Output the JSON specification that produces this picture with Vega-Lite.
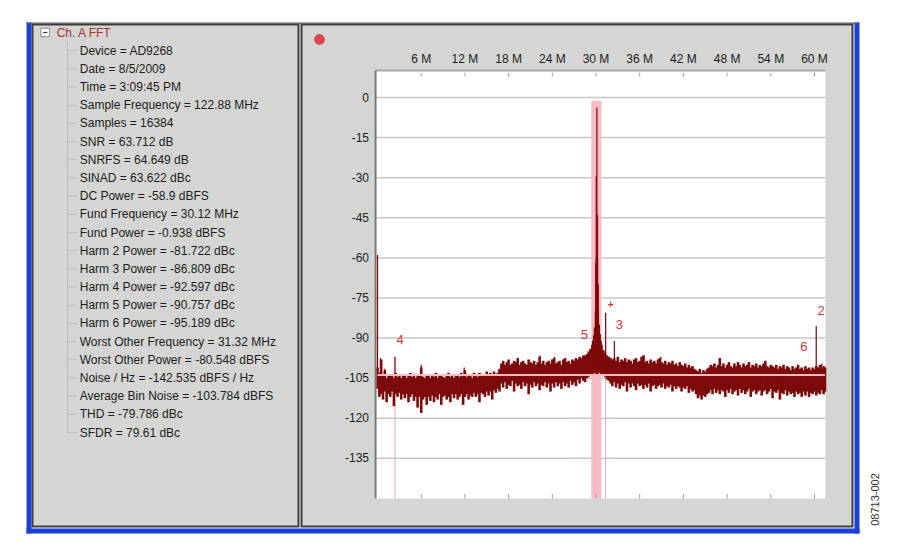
{
  "$schema": "https://vega.github.io/schema/vega-lite/v6.json",
  "padding": {"left": 25.5, "top": 20.5, "right": 10, "bottom": 10},
  "bounds": "flush",
  "spacing": 3,
  "datasets": {
    "info": [
      {"row": 0, "level": 0, "text": "Ch. A FFT"},
      {"row": 1, "level": 1, "text": "Device = AD9268"},
      {"row": 2, "level": 1, "text": "Date = 8/5/2009"},
      {"row": 3, "level": 1, "text": "Time = 3:09:45 PM"},
      {"row": 4, "level": 1, "text": "Sample Frequency = 122.88 MHz"},
      {"row": 5, "level": 1, "text": "Samples = 16384"},
      {"row": 6, "level": 1, "text": "SNR = 63.712 dB"},
      {"row": 7, "level": 1, "text": "SNRFS = 64.649 dB"},
      {"row": 8, "level": 1, "text": "SINAD = 63.622 dBc"},
      {"row": 9, "level": 1, "text": "DC Power = -58.9 dBFS"},
      {"row": 10, "level": 1, "text": "Fund Frequency = 30.12 MHz"},
      {"row": 11, "level": 1, "text": "Fund Power = -0.938 dBFS"},
      {"row": 12, "level": 1, "text": "Harm 2 Power = -81.722 dBc"},
      {"row": 13, "level": 1, "text": "Harm 3 Power = -86.809 dBc"},
      {"row": 14, "level": 1, "text": "Harm 4 Power = -92.597 dBc"},
      {"row": 15, "level": 1, "text": "Harm 5 Power = -90.757 dBc"},
      {"row": 16, "level": 1, "text": "Harm 6 Power = -95.189 dBc"},
      {"row": 17, "level": 1, "text": "Worst Other Frequency = 31.32 MHz"},
      {"row": 18, "level": 1, "text": "Worst Other Power = -80.548 dBFS"},
      {"row": 19, "level": 1, "text": "Noise / Hz = -142.535 dBFS / Hz"},
      {"row": 20, "level": 1, "text": "Average Bin Noise = -103.784 dBFS"},
      {"row": 21, "level": 1, "text": "THD = -79.786 dBc"},
      {"row": 22, "level": 1, "text": "SFDR = 79.61 dBc"}
    ],
    "grid": [
      {"db": 0, "label": "0"}, {"db": -15, "label": "-15"}, {"db": -30, "label": "-30"},
      {"db": -45, "label": "-45"}, {"db": -60, "label": "-60"}, {"db": -75, "label": "-75"},
      {"db": -90, "label": "-90"}, {"db": -105, "label": "-105"}, {"db": -120, "label": "-120"},
      {"db": -135, "label": "-135"}
    ],
    "ticks": [
      {"f": 6, "label": "6 M"}, {"f": 12, "label": "12 M"}, {"f": 18, "label": "18 M"},
      {"f": 24, "label": "24 M"}, {"f": 30, "label": "30 M"}, {"f": 36, "label": "36 M"},
      {"f": 42, "label": "42 M"}, {"f": 48, "label": "48 M"}, {"f": 54, "label": "54 M"},
      {"f": 60, "label": "60 M"}
    ],
    "markers": [
      {"f": 2.4, "db": -97},
      {"f": 31.32, "db": -80.5}
    ],
    "harm": [
      {"h": "2", "f": 60.24, "db": -82.66},
      {"h": "3", "f": 32.52, "db": -87.75},
      {"h": "4", "f": 2.4, "db": -93.54},
      {"h": "5", "f": 27.72, "db": -91.7},
      {"h": "6", "f": 57.84, "db": -96.13}
    ],
    "worst": [
      {"f": 31.32, "db": -80.548}
    ],
    "spikes": [
      {"f": 0, "db": -58.9}, {"f": 0.4, "db": -97.5}, {"f": 1.0, "db": -101.5},
      {"f": 2.4, "db": -97}, {"f": 6.0, "db": -100}, {"f": 11.9, "db": -101},
      {"f": 19.3, "db": -97.5}, {"f": 22.3, "db": -96.5}, {"f": 24.3, "db": -97},
      {"f": 25.8, "db": -97.5}, {"f": 29.95, "db": -62}, {"f": 30.03, "db": -29.5},
      {"f": 30.12, "db": -3.7}, {"f": 30.21, "db": -44}, {"f": 30.29, "db": -70},
      {"f": 31.32, "db": -80.5}, {"f": 32.52, "db": -91}, {"f": 36.6, "db": -96.5},
      {"f": 38.9, "db": -97}, {"f": 47.0, "db": -97.5}, {"f": 60.24, "db": -85.5},
      {"f": 61.0, "db": -99.5}
    ],
    "band": [
      {"f": 0, "hi": -101, "lo": -109}, {"f": 0.25, "hi": -103, "lo": -112}, {"f": 0.5, "hi": -98, "lo": -111},
      {"f": 0.75, "hi": -104, "lo": -113}, {"f": 1.0, "hi": -102, "lo": -110}, {"f": 1.25, "hi": -105, "lo": -114},
      {"f": 1.5, "hi": -104, "lo": -111}, {"f": 1.75, "hi": -103.5, "lo": -112}, {"f": 2.0, "hi": -104, "lo": -110},
      {"f": 2.25, "hi": -105, "lo": -115.5}, {"f": 2.5, "hi": -103, "lo": -111}, {"f": 2.75, "hi": -104.5, "lo": -112},
      {"f": 3.0, "hi": -104, "lo": -110.5}, {"f": 3.25, "hi": -105, "lo": -113}, {"f": 3.5, "hi": -103.5, "lo": -111},
      {"f": 3.75, "hi": -104, "lo": -112.5}, {"f": 4.0, "hi": -105, "lo": -111}, {"f": 4.25, "hi": -104, "lo": -114},
      {"f": 4.5, "hi": -103, "lo": -112}, {"f": 4.75, "hi": -104.5, "lo": -111}, {"f": 5.0, "hi": -104, "lo": -113.5},
      {"f": 5.25, "hi": -105, "lo": -112}, {"f": 5.5, "hi": -103.5, "lo": -116}, {"f": 5.75, "hi": -104, "lo": -112},
      {"f": 6.0, "hi": -101, "lo": -118}, {"f": 6.25, "hi": -104.5, "lo": -113}, {"f": 6.5, "hi": -105, "lo": -112},
      {"f": 6.75, "hi": -104, "lo": -115}, {"f": 7.0, "hi": -103.5, "lo": -112}, {"f": 7.25, "hi": -105, "lo": -113.5},
      {"f": 7.5, "hi": -104, "lo": -111.5}, {"f": 7.75, "hi": -104.5, "lo": -114}, {"f": 8.0, "hi": -103, "lo": -112},
      {"f": 8.25, "hi": -105, "lo": -113}, {"f": 8.5, "hi": -104, "lo": -111}, {"f": 8.75, "hi": -103.5, "lo": -115},
      {"f": 9.0, "hi": -104.5, "lo": -112}, {"f": 9.25, "hi": -105, "lo": -111.5}, {"f": 9.5, "hi": -104, "lo": -113},
      {"f": 9.75, "hi": -103, "lo": -112}, {"f": 10.0, "hi": -104.5, "lo": -114}, {"f": 10.25, "hi": -104, "lo": -111},
      {"f": 10.5, "hi": -105, "lo": -112.5}, {"f": 10.75, "hi": -103.5, "lo": -111}, {"f": 11.0, "hi": -104, "lo": -113},
      {"f": 11.25, "hi": -104.5, "lo": -112}, {"f": 11.5, "hi": -103, "lo": -111}, {"f": 11.75, "hi": -104, "lo": -115},
      {"f": 12.0, "hi": -102, "lo": -112}, {"f": 12.25, "hi": -104.5, "lo": -111}, {"f": 12.5, "hi": -103.5, "lo": -113},
      {"f": 12.75, "hi": -104, "lo": -111.5}, {"f": 13.0, "hi": -105, "lo": -112}, {"f": 13.25, "hi": -103, "lo": -110.5},
      {"f": 13.5, "hi": -104, "lo": -112}, {"f": 13.75, "hi": -104.5, "lo": -111}, {"f": 14.0, "hi": -103, "lo": -114},
      {"f": 14.25, "hi": -104, "lo": -110.5}, {"f": 14.5, "hi": -103.5, "lo": -111}, {"f": 14.75, "hi": -104, "lo": -112},
      {"f": 15.0, "hi": -102.5, "lo": -110}, {"f": 15.25, "hi": -104, "lo": -111.5}, {"f": 15.5, "hi": -103, "lo": -110},
      {"f": 15.75, "hi": -104, "lo": -113}, {"f": 16.0, "hi": -102.5, "lo": -109.5}, {"f": 16.25, "hi": -103.5, "lo": -110.5},
      {"f": 16.5, "hi": -103, "lo": -109}, {"f": 16.75, "hi": -101.5, "lo": -110}, {"f": 17.0, "hi": -99.5, "lo": -107},
      {"f": 17.25, "hi": -98.5, "lo": -108.5}, {"f": 17.5, "hi": -100, "lo": -106.5}, {"f": 17.75, "hi": -99, "lo": -109},
      {"f": 18.0, "hi": -98, "lo": -107.5}, {"f": 18.25, "hi": -100, "lo": -108}, {"f": 18.5, "hi": -99.5, "lo": -106},
      {"f": 18.75, "hi": -98.5, "lo": -110}, {"f": 19.0, "hi": -99, "lo": -107}, {"f": 19.25, "hi": -97.5, "lo": -108},
      {"f": 19.5, "hi": -100, "lo": -107.5}, {"f": 19.75, "hi": -99, "lo": -109}, {"f": 20.0, "hi": -98.5, "lo": -106.5},
      {"f": 20.25, "hi": -99.5, "lo": -108}, {"f": 20.5, "hi": -100, "lo": -107}, {"f": 20.75, "hi": -98, "lo": -111},
      {"f": 21.0, "hi": -99, "lo": -107.5}, {"f": 21.25, "hi": -99.5, "lo": -108.5}, {"f": 21.5, "hi": -98.5, "lo": -106.5},
      {"f": 21.75, "hi": -100, "lo": -108}, {"f": 22.0, "hi": -99, "lo": -107}, {"f": 22.25, "hi": -97, "lo": -109.5},
      {"f": 22.5, "hi": -99.5, "lo": -107.5}, {"f": 22.75, "hi": -98.5, "lo": -108}, {"f": 23.0, "hi": -100, "lo": -106.5},
      {"f": 23.25, "hi": -99, "lo": -108.5}, {"f": 23.5, "hi": -98.5, "lo": -107}, {"f": 23.75, "hi": -99.5, "lo": -110},
      {"f": 24.0, "hi": -98, "lo": -107}, {"f": 24.25, "hi": -97.5, "lo": -108.5}, {"f": 24.5, "hi": -99.5, "lo": -106.5},
      {"f": 24.75, "hi": -99, "lo": -108}, {"f": 25.0, "hi": -98.5, "lo": -107}, {"f": 25.25, "hi": -100, "lo": -109},
      {"f": 25.5, "hi": -98, "lo": -106.5}, {"f": 25.75, "hi": -97.5, "lo": -108}, {"f": 26.0, "hi": -99, "lo": -107},
      {"f": 26.25, "hi": -98.5, "lo": -108.5}, {"f": 26.5, "hi": -99.5, "lo": -106}, {"f": 26.75, "hi": -98, "lo": -107.5},
      {"f": 27.0, "hi": -98.5, "lo": -106.5}, {"f": 27.25, "hi": -97.5, "lo": -108}, {"f": 27.5, "hi": -98, "lo": -105.5},
      {"f": 27.75, "hi": -97, "lo": -107}, {"f": 28.0, "hi": -97.5, "lo": -105}, {"f": 28.25, "hi": -96.5, "lo": -106},
      {"f": 28.5, "hi": -96.5, "lo": -106.5}, {"f": 28.75, "hi": -96, "lo": -105}, {"f": 29.0, "hi": -95, "lo": -104.5},
      {"f": 29.25, "hi": -94, "lo": -104}, {"f": 29.5, "hi": -92.5, "lo": -103.5}, {"f": 29.62, "hi": -91, "lo": -103},
      {"f": 29.75, "hi": -89, "lo": -103}, {"f": 29.87, "hi": -86, "lo": -102.5}, {"f": 30.0, "hi": -80, "lo": -102},
      {"f": 30.06, "hi": -70, "lo": -100}, {"f": 30.12, "hi": -60, "lo": -100}, {"f": 30.18, "hi": -70, "lo": -100},
      {"f": 30.24, "hi": -79, "lo": -102}, {"f": 30.37, "hi": -85, "lo": -102.5}, {"f": 30.5, "hi": -88.5, "lo": -103},
      {"f": 30.62, "hi": -91, "lo": -103}, {"f": 30.75, "hi": -92.5, "lo": -103.5}, {"f": 31.0, "hi": -94.5, "lo": -104},
      {"f": 31.25, "hi": -95.5, "lo": -104.5}, {"f": 31.5, "hi": -96.5, "lo": -105.5}, {"f": 31.75, "hi": -97, "lo": -106},
      {"f": 32.0, "hi": -97.5, "lo": -107}, {"f": 32.25, "hi": -98, "lo": -108}, {"f": 32.5, "hi": -97.5, "lo": -106.5},
      {"f": 32.75, "hi": -98.5, "lo": -108.5}, {"f": 33.0, "hi": -97, "lo": -107}, {"f": 33.25, "hi": -99, "lo": -109},
      {"f": 33.5, "hi": -98, "lo": -107.5}, {"f": 33.75, "hi": -98.5, "lo": -108}, {"f": 34.0, "hi": -97.5, "lo": -106.5},
      {"f": 34.25, "hi": -99, "lo": -110}, {"f": 34.5, "hi": -98, "lo": -107}, {"f": 34.75, "hi": -98.5, "lo": -108.5},
      {"f": 35.0, "hi": -99.5, "lo": -107}, {"f": 35.25, "hi": -98, "lo": -108}, {"f": 35.5, "hi": -97.5, "lo": -109.5},
      {"f": 35.75, "hi": -99, "lo": -107}, {"f": 36.0, "hi": -98.5, "lo": -108}, {"f": 36.25, "hi": -97, "lo": -107.5},
      {"f": 36.5, "hi": -96.5, "lo": -109}, {"f": 36.75, "hi": -99, "lo": -107.5}, {"f": 37.0, "hi": -98.5, "lo": -108.5},
      {"f": 37.25, "hi": -99.5, "lo": -107}, {"f": 37.5, "hi": -98, "lo": -110}, {"f": 37.75, "hi": -99, "lo": -108},
      {"f": 38.0, "hi": -98.5, "lo": -107.5}, {"f": 38.25, "hi": -99.5, "lo": -109}, {"f": 38.5, "hi": -98, "lo": -108},
      {"f": 38.75, "hi": -97.5, "lo": -107.5}, {"f": 39.0, "hi": -99, "lo": -108.5}, {"f": 39.25, "hi": -99.5, "lo": -107},
      {"f": 39.5, "hi": -98.5, "lo": -109}, {"f": 39.75, "hi": -100, "lo": -108}, {"f": 40.0, "hi": -99, "lo": -108.5},
      {"f": 40.25, "hi": -99.5, "lo": -107.5}, {"f": 40.5, "hi": -98.5, "lo": -110}, {"f": 40.75, "hi": -100, "lo": -108},
      {"f": 41.0, "hi": -99.5, "lo": -109}, {"f": 41.25, "hi": -100.5, "lo": -108}, {"f": 41.5, "hi": -99, "lo": -108.5},
      {"f": 41.75, "hi": -100, "lo": -110}, {"f": 42.0, "hi": -100.5, "lo": -108.5}, {"f": 42.25, "hi": -99.5, "lo": -109},
      {"f": 42.5, "hi": -101, "lo": -108}, {"f": 42.75, "hi": -100, "lo": -110.5}, {"f": 43.0, "hi": -101, "lo": -109},
      {"f": 43.25, "hi": -100.5, "lo": -110}, {"f": 43.5, "hi": -101.5, "lo": -109.5}, {"f": 43.75, "hi": -102, "lo": -111},
      {"f": 44.0, "hi": -102.5, "lo": -112.5}, {"f": 44.25, "hi": -101.5, "lo": -111.5}, {"f": 44.5, "hi": -103, "lo": -113},
      {"f": 44.75, "hi": -102, "lo": -111.5}, {"f": 45.0, "hi": -102.5, "lo": -112}, {"f": 45.25, "hi": -101.5, "lo": -111},
      {"f": 45.5, "hi": -101, "lo": -110.5}, {"f": 45.75, "hi": -100, "lo": -109.5}, {"f": 46.0, "hi": -100.5, "lo": -111},
      {"f": 46.25, "hi": -99.5, "lo": -109}, {"f": 46.5, "hi": -101, "lo": -110.5}, {"f": 46.75, "hi": -100, "lo": -109.5},
      {"f": 47.0, "hi": -97.5, "lo": -111}, {"f": 47.25, "hi": -100.5, "lo": -109.5}, {"f": 47.5, "hi": -99.5, "lo": -110},
      {"f": 47.75, "hi": -101, "lo": -112}, {"f": 48.0, "hi": -100, "lo": -109.5}, {"f": 48.25, "hi": -99, "lo": -110.5},
      {"f": 48.5, "hi": -100.5, "lo": -109}, {"f": 48.75, "hi": -101, "lo": -111}, {"f": 49.0, "hi": -99.5, "lo": -110},
      {"f": 49.25, "hi": -100.5, "lo": -109.5}, {"f": 49.5, "hi": -99, "lo": -111.5}, {"f": 49.75, "hi": -100, "lo": -109},
      {"f": 50.0, "hi": -101, "lo": -110.5}, {"f": 50.25, "hi": -99.5, "lo": -109.5}, {"f": 50.5, "hi": -100.5, "lo": -111},
      {"f": 50.75, "hi": -100, "lo": -110}, {"f": 51.0, "hi": -99, "lo": -109}, {"f": 51.25, "hi": -101, "lo": -112},
      {"f": 51.5, "hi": -100, "lo": -110}, {"f": 51.75, "hi": -100.5, "lo": -109.5}, {"f": 52.0, "hi": -99.5, "lo": -111},
      {"f": 52.25, "hi": -101, "lo": -110}, {"f": 52.5, "hi": -100, "lo": -109.5}, {"f": 52.75, "hi": -100.5, "lo": -111.5},
      {"f": 53.0, "hi": -99.5, "lo": -110}, {"f": 53.25, "hi": -98.5, "lo": -109.5}, {"f": 53.5, "hi": -100.5, "lo": -111},
      {"f": 53.75, "hi": -101, "lo": -110}, {"f": 54.0, "hi": -100, "lo": -109}, {"f": 54.25, "hi": -100.5, "lo": -112.5},
      {"f": 54.5, "hi": -101, "lo": -110}, {"f": 54.75, "hi": -100, "lo": -110.5}, {"f": 55.0, "hi": -101.5, "lo": -109.5},
      {"f": 55.25, "hi": -100.5, "lo": -113}, {"f": 55.5, "hi": -101, "lo": -110.5}, {"f": 55.75, "hi": -100, "lo": -111},
      {"f": 56.0, "hi": -101.5, "lo": -109.5}, {"f": 56.25, "hi": -100.5, "lo": -111.5}, {"f": 56.5, "hi": -101, "lo": -110},
      {"f": 56.75, "hi": -102, "lo": -111}, {"f": 57.0, "hi": -100.5, "lo": -110.5}, {"f": 57.25, "hi": -101.5, "lo": -112},
      {"f": 57.5, "hi": -101, "lo": -110}, {"f": 57.75, "hi": -100, "lo": -111}, {"f": 58.0, "hi": -101.5, "lo": -110.5},
      {"f": 58.25, "hi": -101, "lo": -112}, {"f": 58.5, "hi": -102, "lo": -110}, {"f": 58.75, "hi": -100.5, "lo": -111.5},
      {"f": 59.0, "hi": -101.5, "lo": -110}, {"f": 59.25, "hi": -101, "lo": -112}, {"f": 59.5, "hi": -102, "lo": -110.5},
      {"f": 59.75, "hi": -101, "lo": -111}, {"f": 60.0, "hi": -101.5, "lo": -110}, {"f": 60.25, "hi": -100.5, "lo": -111.5},
      {"f": 60.5, "hi": -101, "lo": -110.5}, {"f": 60.75, "hi": -100, "lo": -111}, {"f": 61.0, "hi": -101.5, "lo": -109.5},
      {"f": 61.25, "hi": -100.5, "lo": -111}, {"f": 61.44, "hi": -101, "lo": -110}
    ]
  },
  "hconcat": [
    {
      "width": 266,
      "height": 502,
      "view": {"fill": "#d5d5d3", "stroke": "#3c3c3c", "strokeWidth": 2},
      "layer": [
        {
          "data": {"values": [{}]},
          "mark": {"type": "rule", "stroke": "#a4a4a4", "strokeDash": [1, 1]},
          "encoding": {
            "x": {"datum": 0.47, "type": "quantitative", "scale": {"domain": [-1.05, 10.5], "nice": false, "zero": false}, "axis": null},
            "y": {"datum": 0.55, "type": "quantitative", "scale": {"domain": [-0.44, 27.17], "nice": false, "zero": false, "reverse": true}, "axis": null},
            "y2": {"datum": 22}
          }
        },
        {
          "data": {"name": "info"},
          "transform": [{"filter": "datum.level > 0"}],
          "mark": {"type": "rule", "stroke": "#a4a4a4", "strokeDash": [1, 1]},
          "encoding": {
            "x": {"datum": 0.47, "type": "quantitative", "axis": null},
            "x2": {"datum": 0.9},
            "y": {"field": "row", "type": "quantitative", "axis": null}
          }
        },
        {
          "data": {"values": [{}]},
          "mark": {"type": "point", "shape": "square", "filled": true, "fill": "#ffffff", "stroke": "#8c8c8c", "strokeWidth": 1, "size": 72, "opacity": 1},
          "encoding": {
            "x": {"datum": -0.5, "type": "quantitative", "axis": null},
            "y": {"datum": 0, "type": "quantitative", "axis": null}
          }
        },
        {
          "data": {"values": [{}]},
          "mark": {"type": "point", "shape": "M -0.55 0 L 0.55 0", "filled": false, "stroke": "#404040", "strokeWidth": 1.2, "size": 64, "opacity": 1},
          "encoding": {
            "x": {"datum": -0.5, "type": "quantitative", "axis": null},
            "y": {"datum": 0, "type": "quantitative", "axis": null}
          }
        },
        {
          "data": {"name": "info"},
          "mark": {"type": "text", "align": "left", "baseline": "middle", "fontSize": 12, "font": "Liberation Sans"},
          "encoding": {
            "x": {"field": "level", "type": "quantitative", "axis": null},
            "y": {"field": "row", "type": "quantitative", "axis": null},
            "text": {"field": "text"},
            "color": {"condition": {"test": "datum.level == 0", "value": "#a83232"}, "value": "#1c1c1c"}
          }
        }
      ]
    },
    {
      "width": 551,
      "height": 502,
      "view": {"fill": "#d5d5d3", "stroke": "#3c3c3c", "strokeWidth": 2},
      "layer": [
        {
          "data": {"values": [{}]},
          "mark": {"type": "rect", "fill": "#ffffff"},
          "encoding": {
            "x": {"datum": -0.27, "type": "quantitative", "scale": {"domain": [-10.44, 65.22], "nice": false, "zero": false}, "axis": null},
            "x2": {"datum": 61.5},
            "y": {"datum": -150, "type": "quantitative", "scale": {"domain": [-160.49, 27.31], "nice": false, "zero": false}, "axis": null},
            "y2": {"datum": 10.1}
          }
        },
        {
          "data": {"name": "grid"},
          "mark": {"type": "rule", "stroke": "#c6c6c6", "strokeWidth": 1.5},
          "encoding": {
            "x": {"datum": -0.27, "type": "quantitative", "axis": null},
            "x2": {"datum": 61.5},
            "y": {"field": "db", "type": "quantitative", "axis": null}
          }
        },
        {
          "data": {"values": [{}]},
          "mark": {"type": "rect", "fill": "#f8bcc5"},
          "encoding": {
            "x": {"datum": 29.35, "type": "quantitative", "axis": null},
            "x2": {"datum": 30.75},
            "y": {"datum": -150, "type": "quantitative", "axis": null},
            "y2": {"datum": -1.2}
          }
        },
        {
          "data": {"name": "markers"},
          "mark": {"type": "rule", "stroke": "#f3a6b4", "strokeWidth": 1},
          "encoding": {
            "x": {"field": "f", "type": "quantitative", "axis": null},
            "y": {"field": "db", "type": "quantitative", "axis": null},
            "y2": {"datum": -150}
          }
        },
        {
          "data": {"name": "band"},
          "mark": {"type": "rule", "stroke": "#7d0a0a", "strokeWidth": 2.6},
          "encoding": {
            "x": {"field": "f", "type": "quantitative", "axis": null},
            "y": {"field": "lo", "type": "quantitative", "axis": null},
            "y2": {"field": "hi"}
          }
        },
        {
          "data": {"name": "spikes"},
          "mark": {"type": "rule", "stroke": "#7d0a0a", "strokeWidth": 1.2},
          "encoding": {
            "x": {"field": "f", "type": "quantitative", "axis": null},
            "y": {"field": "db", "type": "quantitative", "axis": null},
            "y2": {"datum": -104}
          }
        },
        {
          "data": {"values": [{}]},
          "mark": {"type": "rule", "stroke": "#f5bcc5", "strokeWidth": 2},
          "encoding": {
            "x": {"datum": 0, "type": "quantitative", "axis": null},
            "x2": {"datum": 61.44},
            "y": {"datum": -103.784, "type": "quantitative", "axis": null}
          }
        },
        {
          "data": {"values": [{}]},
          "mark": {"type": "rule", "stroke": "#a8a8a8", "strokeWidth": 2},
          "encoding": {
            "x": {"datum": -0.27, "type": "quantitative", "axis": null},
            "x2": {"datum": 61.5},
            "y": {"datum": 10.1, "type": "quantitative", "axis": null}
          }
        },
        {
          "data": {"values": [{}]},
          "mark": {"type": "rule", "stroke": "#7a7a72", "strokeWidth": 2},
          "encoding": {
            "x": {"datum": -0.27, "type": "quantitative", "axis": null},
            "y": {"datum": -150, "type": "quantitative", "axis": null},
            "y2": {"datum": 10.1}
          }
        },
        {
          "data": {"name": "ticks"},
          "mark": {"type": "rule", "stroke": "#9a9a9a", "strokeWidth": 1},
          "encoding": {
            "x": {"field": "f", "type": "quantitative", "axis": null},
            "y": {"datum": 9.2, "type": "quantitative", "axis": null},
            "y2": {"datum": 7.9}
          }
        },
        {
          "data": {"name": "ticks"},
          "mark": {"type": "rule", "stroke": "#9a9a9a", "strokeWidth": 1},
          "encoding": {
            "x": {"field": "f", "type": "quantitative", "axis": null},
            "y": {"datum": -150, "type": "quantitative", "axis": null},
            "y2": {"datum": -148.4}
          }
        },
        {
          "data": {"name": "ticks"},
          "mark": {"type": "text", "align": "center", "baseline": "middle", "fontSize": 12, "font": "Liberation Sans", "color": "#1c1c1c"},
          "encoding": {
            "x": {"field": "f", "type": "quantitative", "axis": null},
            "y": {"datum": 14.4, "type": "quantitative", "axis": null},
            "text": {"field": "label"}
          }
        },
        {
          "data": {"name": "grid"},
          "mark": {"type": "text", "align": "right", "baseline": "middle", "fontSize": 12, "font": "Liberation Sans", "color": "#1c1c1c"},
          "encoding": {
            "x": {"datum": -1.17, "type": "quantitative", "axis": null},
            "y": {"field": "db", "type": "quantitative", "axis": null},
            "text": {"field": "label"}
          }
        },
        {
          "data": {"name": "harm"},
          "mark": {"type": "text", "align": "center", "baseline": "middle", "dx": 5, "dy": -7.5, "fontSize": 13, "font": "Liberation Sans", "color": "#c8383a"},
          "encoding": {
            "x": {"field": "f", "type": "quantitative", "axis": null},
            "y": {"field": "db", "type": "quantitative", "axis": null},
            "text": {"field": "h"}
          }
        },
        {
          "data": {"name": "worst"},
          "mark": {"type": "text", "text": "+", "align": "center", "baseline": "middle", "dx": 5, "dy": -8, "fontSize": 10, "fontWeight": "bold", "font": "Liberation Sans", "color": "#c8383a"},
          "encoding": {
            "x": {"field": "f", "type": "quantitative", "axis": null},
            "y": {"field": "db", "type": "quantitative", "axis": null}
          }
        },
        {
          "data": {"values": [{}]},
          "mark": {"type": "point", "shape": "circle", "filled": true, "fill": "#e2464f", "stroke": "#b4283a", "strokeWidth": 0.6, "size": 100, "opacity": 1},
          "encoding": {
            "x": {"datum": -7.97, "type": "quantitative", "axis": null},
            "y": {"datum": 21.7, "type": "quantitative", "axis": null}
          }
        },
        {
          "data": {"values": [{}]},
          "mark": {"type": "rect", "fill": "#1c3fd6"},
          "encoding": {
            "x": {"datum": -48.2, "type": "quantitative", "axis": null},
            "x2": {"datum": -47.51},
            "y": {"datum": -163.11, "type": "quantitative", "axis": null},
            "y2": {"datum": 28.06}
          }
        },
        {
          "data": {"values": [{}]},
          "mark": {"type": "rect", "fill": "#1c3fd6"},
          "encoding": {
            "x": {"datum": 65.49, "type": "quantitative", "axis": null},
            "x2": {"datum": 66.18},
            "y": {"datum": -163.11, "type": "quantitative", "axis": null},
            "y2": {"datum": 28.06}
          }
        },
        {
          "data": {"values": [{}]},
          "mark": {"type": "rect", "fill": "#1c3fd6"},
          "encoding": {
            "x": {"datum": -48.2, "type": "quantitative", "axis": null},
            "x2": {"datum": 66.18},
            "y": {"datum": -163.11, "type": "quantitative", "axis": null},
            "y2": {"datum": -161.24}
          }
        },
        {
          "data": {"values": [{}]},
          "mark": {"type": "rect", "fill": "#5a5a5a"},
          "encoding": {
            "x": {"datum": -48.2, "type": "quantitative", "axis": null},
            "x2": {"datum": 66.18},
            "y": {"datum": 27.57, "type": "quantitative", "axis": null},
            "y2": {"datum": 28.06}
          }
        },
        {
          "data": {"values": [{}]},
          "mark": {"type": "text", "text": "08713-002", "angle": 270, "align": "center", "baseline": "middle", "fontSize": 11, "font": "Liberation Sans", "color": "#333333"},
          "encoding": {
            "x": {"datum": 68.5, "type": "quantitative", "axis": null},
            "y": {"datum": -150.4, "type": "quantitative", "axis": null}
          }
        }
      ]
    }
  ],
  "config": {
    "font": "Liberation Sans",
    "background": "#ffffff"
  }
}
